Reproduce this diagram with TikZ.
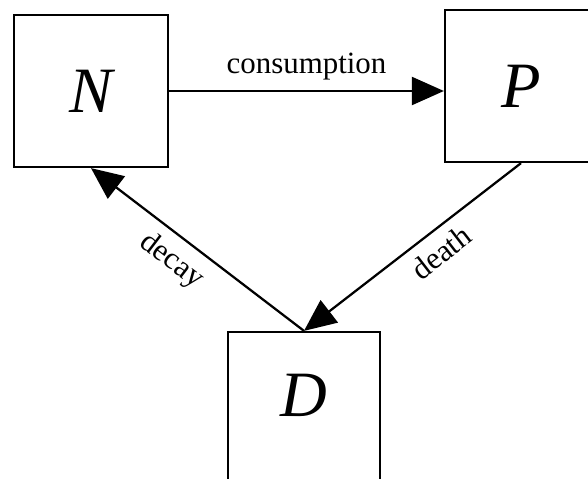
\documentclass[tikz,border=0pt]{standalone}
\usepackage{fontspec}
\setmainfont{Liberation Serif}
\usepackage{tikz}
\usetikzlibrary{arrows.meta,positioning,calc}

\begin{document}
\begin{tikzpicture}[
    pool/.style={draw, rectangle, line width=1.6pt, minimum width=3.8cm, minimum height=3.8cm,
                 font=\fontsize{46}{50}\selectfont\itshape},
    flux/.style={line width=1.6pt, -{Triangle[length=0.8cm, width=0.7cm]}},
    lab/.style={font=\fontsize{22}{24}\selectfont, inner sep=0pt}
]
                \useasboundingbox (0,0) rectangle (14.7,-11.95);
                \clip (0,0) rectangle (14.7,-11.95);
                \node[pool, minimum width=3.85cm] (N) at (2.275,-2.275) {N};
                \node[pool] (P) at (13.025,-2.15) {P};
                \node[pool] (D) at (7.6,-10.2) {\raisebox{0.65cm}{D}};
                \draw[flux] (N.east) -- node[lab, above=7pt] {consumption} (N.east -| P.west);
                \draw[flux] (P.south) -- node[lab, pos=0.43, sloped, below=7pt] {death} (D.north);
                \draw[flux] (D.north) -- node[lab, pos=0.55, sloped, below=7pt] {decay} (N.south);
            \end{tikzpicture}
\end{document}
